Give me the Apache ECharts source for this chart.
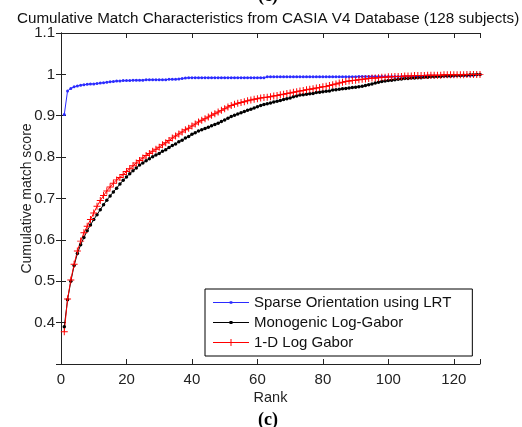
<!DOCTYPE html>
<html>
<head>
<meta charset="utf-8">
<script src="https://cdn.jsdelivr.net/npm/echarts@6/dist/echarts.min.js"></script>
<style>html,body{margin:0;padding:0;background:#fff;}#c{width:522px;height:427px;}</style>
</head>
<body>
<div id="c"></div>
<script>
var ranks = [1,2,3,4,5,6,7,8,9,10,11,12,13,14,15,16,17,18,19,20,21,22,23,24,25,26,27,28,29,30,31,32,33,34,35,36,37,38,39,40,41,42,43,44,45,46,47,48,49,50,51,52,53,54,55,56,57,58,59,60,61,62,63,64,65,66,67,68,69,70,71,72,73,74,75,76,77,78,79,80,81,82,83,84,85,86,87,88,89,90,91,92,93,94,95,96,97,98,99,100,101,102,103,104,105,106,107,108,109,110,111,112,113,114,115,116,117,118,119,120,121,122,123,124,125,126,127,128];

var sparseLRT = [0.903,0.960,0.966,0.970,0.972,0.974,0.975,0.976,0.977,0.977,
0.978,0.979,0.980,0.981,0.982,0.983,0.984,0.984,0.985,0.985,
0.985,0.986,0.986,0.986,0.986,0.987,0.987,0.987,0.987,0.987,
0.987,0.987,0.988,0.988,0.988,0.989,0.990,0.991,0.992,0.992,
0.992,0.992,0.992,0.992,0.992,0.992,0.992,0.992,0.992,0.992,
0.992,0.992,0.992,0.992,0.992,0.992,0.992,0.992,0.992,0.992,
0.992,0.992,0.994,0.994,0.994,0.994,0.994,0.994,0.994,0.994,
0.994,0.994,0.994,0.994,0.994,0.994,0.994,0.994,0.994,0.994,
0.994,0.994,0.994,0.994,0.994,0.994,0.994,0.994,0.994,0.994,
0.995,0.995,0.995,0.995,0.995,0.995,0.995,0.995,0.995,0.995,
0.995,0.995,0.995,0.995,0.995,0.995,0.995,0.995,0.995,0.995,
0.996,0.996,0.996,0.996,0.996,0.996,0.996,0.996,0.996,0.996,
0.997,0.997,0.997,0.997,0.997,0.998,0.999,1.000];

var monogenic = [0.390,0.455,0.500,0.538,0.567,0.588,0.606,0.622,0.636,0.649,
0.661,0.673,0.685,0.696,0.706,0.716,0.725,0.735,0.744,0.752,
0.760,0.767,0.774,0.781,0.786,0.791,0.796,0.801,0.805,0.809,
0.814,0.818,0.823,0.828,0.832,0.837,0.841,0.846,0.850,0.855,
0.859,0.863,0.866,0.869,0.872,0.876,0.879,0.882,0.886,0.890,
0.894,0.898,0.901,0.904,0.907,0.910,0.913,0.916,0.919,0.922,
0.925,0.927,0.929,0.931,0.933,0.935,0.937,0.939,0.941,0.943,
0.946,0.948,0.950,0.951,0.952,0.953,0.954,0.956,0.957,0.958,
0.959,0.960,0.962,0.963,0.964,0.965,0.966,0.967,0.968,0.969,
0.970,0.971,0.973,0.975,0.977,0.979,0.981,0.983,0.984,0.985,
0.986,0.987,0.988,0.989,0.990,0.990,0.991,0.991,0.992,0.992,
0.993,0.993,0.994,0.994,0.995,0.995,0.996,0.996,0.996,0.997,
0.997,0.997,0.998,0.998,0.999,0.999,1.000,1.000];

var logGabor1D = [0.378,0.457,0.503,0.541,0.573,0.597,0.617,0.633,0.649,0.665,
0.681,0.695,0.707,0.718,0.728,0.737,0.745,0.751,0.758,0.765,
0.772,0.779,0.786,0.792,0.798,0.804,0.809,0.814,0.819,0.824,
0.830,0.835,0.840,0.846,0.851,0.856,0.861,0.866,0.870,0.875,
0.880,0.885,0.889,0.893,0.897,0.901,0.905,0.909,0.913,0.917,
0.921,0.925,0.928,0.930,0.932,0.934,0.936,0.938,0.940,0.941,
0.943,0.944,0.945,0.946,0.948,0.949,0.951,0.952,0.954,0.955,
0.957,0.958,0.960,0.961,0.963,0.964,0.965,0.967,0.968,0.970,
0.971,0.973,0.975,0.977,0.979,0.981,0.983,0.984,0.985,0.986,
0.987,0.988,0.989,0.990,0.991,0.991,0.992,0.993,0.993,0.994,
0.994,0.995,0.995,0.995,0.996,0.996,0.996,0.997,0.997,0.997,
0.997,0.998,0.998,0.998,0.998,0.998,0.999,0.999,0.999,0.999,
0.999,0.999,0.999,1.000,1.000,1.000,1.000,1.000];

var seriesNames = ['Sparse Orientation using LRT', 'Monogenic Log-Gabor', '1-D Log Gabor'];
var xTicks = [0,20,40,60,80,100,120];
var yTicks = [0.4,0.5,0.6,0.7,0.8,0.9,1,1.1];

function pairs(vals){ return ranks.map(function(r,i){ return [r, vals[i]]; }); }

var font = 'Liberation Sans, Arial, sans-serif';
var chart = echarts.init(document.getElementById('c'), null, {renderer:'canvas'});
var plus = 'path://M4.3,0H5.7V4.3H10V5.7H5.7V10H4.3V5.7H0V4.3H4.3Z';

// legend icons in a 36x10 box: line with a small marker in the middle
var iconDot = 'path://M0,4.5H36V5.5H0Z M16.7,3.7H19.3V6.3H16.7Z';
var iconBigDot = 'path://M0,4.5H36V5.5H0Z M16.5,3.5H19.5V6.5H16.5Z';
var iconPlus = 'path://M0,4.5H36V5.5H0Z M17.5,1.5H18.5V8.5H17.5Z M14.5,4.5H21.5V5.5H14.5Z';

function xLabel(v){ return xTicks.indexOf(Math.round(v)) >= 0 && Math.abs(v-Math.round(v))<1e-6 ? String(Math.round(v)) : ''; }
function yLabel(v){ var r = Math.round(v*10)/10; return (Math.abs(v-r)<1e-6 && yTicks.indexOf(r)>=0) ? String(r) : ''; }

var axisLine = {show:true, lineStyle:{color:'#222', width:1}};
var tick = {show:true, inside:true, length:5, lineStyle:{color:'#222'}};

chart.setOption({
  animation:false,
  backgroundColor:'#fff',
  title:{
    text:'Cumulative Match Characteristics from CASIA V4 Database (128 subjects)',
    left:17, top:6, padding:[5,0,5,0],
    textStyle:{fontFamily:font, fontSize:15.2, fontWeight:'normal', color:'#111'}
  },
  graphic:[
    {type:'text', style:{text:'(c)', x:268, y:-4, textAlign:'center', textVerticalAlign:'middle', font:'bold 18px "Liberation Serif", "Times New Roman", serif', fill:'#000'}},
    {type:'text', style:{text:'(c)', x:268, y:420, textAlign:'center', textVerticalAlign:'middle', font:'bold 18px "Liberation Serif", "Times New Roman", serif', fill:'#000'}}
  ],
  grid:{left:61, top:33, right:42, bottom:63, containLabel:false},
  legend:{
    orient:'vertical', left:205, top:289,
    backgroundColor:'#fff', borderColor:'#000', borderWidth:1,
    padding:[6,21,6,8], itemGap:5, itemWidth:36, itemHeight:10,
    textStyle:{fontFamily:font, fontSize:15, color:'#111'},
    data:[
      {name:seriesNames[0], icon:iconDot},
      {name:seriesNames[1], icon:iconBigDot},
      {name:seriesNames[2], icon:iconPlus}
    ]
  },
  xAxis:[
    {type:'value', min:0, max:128, interval:20, position:'bottom',
     name:'Rank', nameLocation:'middle', nameGap:26, nameMoveOverlap:false,
     nameTextStyle:{fontFamily:font, fontSize:14.5, color:'#222'},
     axisLine:axisLine, axisTick:tick, splitLine:{show:false},
     axisLabel:{fontFamily:font, fontSize:15, color:'#222', margin:8, formatter:xLabel}},
    {type:'value', min:0, max:128, interval:20, position:'top',
     axisLine:axisLine, axisTick:tick, splitLine:{show:false}, axisLabel:{show:false}}
  ],
  yAxis:[
    {type:'value', min:0.3, max:1.1, interval:0.1, position:'left',
     name:'Cumulative match score', nameLocation:'middle', nameGap:27, nameMoveOverlap:false,
     nameTextStyle:{fontFamily:font, fontSize:14, color:'#222'},
     axisLine:axisLine, axisTick:tick, splitLine:{show:false},
     axisLabel:{fontFamily:font, fontSize:15, color:'#222', margin:6, formatter:yLabel}},
    {type:'value', min:0.3, max:1.1, interval:0.1, position:'right',
     axisLine:axisLine, axisTick:tick, splitLine:{show:false}, axisLabel:{show:false}}
  ],
  series:[
    {name:seriesNames[0], type:'line', data:pairs(sparseLRT), xAxisIndex:0, yAxisIndex:0,
     symbol:'circle', symbolSize:3, showAllSymbol:true,
     lineStyle:{color:'#2b2bff', width:1}, itemStyle:{color:'#2b2bff'}},
    {name:seriesNames[1], type:'line', data:pairs(monogenic),
     symbol:'circle', symbolSize:3.5, showAllSymbol:true,
     lineStyle:{color:'#000', width:1}, itemStyle:{color:'#000'}},
    {name:seriesNames[2], type:'line', data:pairs(logGabor1D),
     symbol:plus, symbolSize:7, showAllSymbol:true,
     lineStyle:{color:'#ff0000', width:1}, itemStyle:{color:'#ff0000'}}
  ]
});
</script>
</body>
</html>
